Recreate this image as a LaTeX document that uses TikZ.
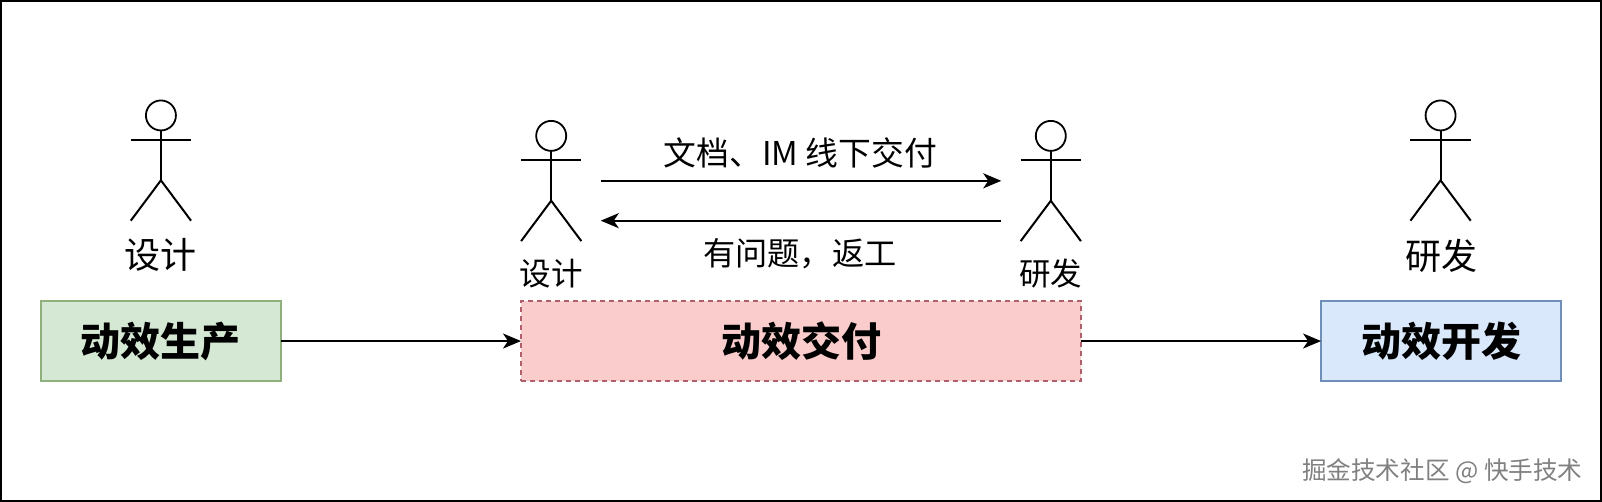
\documentclass[tikz,border=0pt]{standalone}
\usepackage{fontspec}
\setmainfont{Noto Sans CJK SC}
\usetikzlibrary{arrows.meta}
\definecolor{gfill}{HTML}{D5E8D4}\definecolor{gline}{HTML}{8FB07C}
\definecolor{rfill}{HTML}{FACCCC}\definecolor{rline}{HTML}{B0606A}
\definecolor{bfill}{HTML}{DAE8FC}\definecolor{bline}{HTML}{6F8FB8}
\tikzset{
  limb/.style={draw=black,line width=2pt},
  headc/.style={circle,draw=black,line width=1.8pt,minimum size=30pt,inner sep=0pt,outer sep=0pt},
  conn/.style={draw=black,line width=2pt,-{Stealth[length=18pt,width=15pt,inset=5pt]}},
  stage/.style={rectangle,line width=1.8pt,minimum height=80pt,inner sep=0pt,outer sep=0pt,font=\fontsize{40}{44}\selectfont\bfseries,text=black},
  biglabel/.style={inner sep=0pt,font=\fontsize{36}{40}\selectfont,text=black},
  midlabel/.style={inner sep=0pt,font=\fontsize{31.5}{34}\selectfont,text=black},
  msg/.style={inner sep=0pt,font=\fontsize{32.8}{36}\selectfont,text=black},
  msgb/.style={inner sep=0pt,font=\fontsize{32.2}{36}\selectfont,text=black},
  wm/.style={inner sep=0pt,font=\fontsize{24.6}{28}\selectfont,text=black!50}
}
\newcommand{\stagetext}[1]{\raisebox{-2.5pt}{#1}}
\newcommand{\stickman}[3]{% name, x, head centre y
  \node[headc] (#1head) at (#2,#3) {};
  \coordinate (#1larm) at (#2-29.5,#3+24);
  \coordinate (#1rarm) at (#2+29.5,#3+24);
  \coordinate (#1neck) at (#2,#3+24);
  \coordinate (#1hip) at (#2,#3+63.5);
  \coordinate (#1lfoot) at (#2-29.5,#3+103);
  \coordinate (#1rfoot) at (#2+29.5,#3+103);
  \draw[limb] (#1head.south) -- (#1hip);
  \draw[limb] (#1larm) -- (#1rarm);
  \draw[limb] (#1lfoot) -- (#1hip) -- (#1rfoot);
}
\begin{document}
\begin{tikzpicture}[x=1.0217pt,y=-1.0217pt]
\useasboundingbox (0,0) rectangle (1568,491.3);
\draw[black,line width=2.4pt] (1,1) rectangle (1567,490.3);
% actors
\stickman{aa}{157.5}{113}
\stickman{bb}{539.5}{133}
\stickman{cc}{1028.5}{133}
\stickman{dd}{1410}{113}
\node[biglabel] (aal) at (157.5,250) {设计};
\node[midlabel] (bbl) at (539.5,268) {设计};
\node[midlabel] (ccl) at (1028.5,268) {研发};
\node[biglabel] (ddl) at (1410.5,250) {研发};
% stages
\node[stage,fill=gfill,draw=gline,minimum width=240pt] (prod) at (157.5,333.8) {\stagetext{动效生产}};
\node[stage,fill=rfill,draw=rline,dashed,dash pattern=on 5pt off 4pt,minimum width=560pt] (deliv) at (784,333.8) {\stagetext{动效交付}};
\node[stage,fill=bfill,draw=bline,minimum width=240pt] (dev) at (1410.5,333.8) {\stagetext{动效开发}};
\draw[conn] (prod.east) -- (deliv.west);
\draw[conn] (deliv.east) -- (dev.west);
% messages
\coordinate (s1) at (588,177); \coordinate (e1) at (980,177);
\coordinate (s2) at (980,216); \coordinate (e2) at (588,216);
\draw[conn] (s1) -- (e1);
\draw[conn] (s2) -- (e2);
\node[msg] (m1) at (783.5,149.5) {文档、IM 线下交付};
\node[msgb] (m2) at (783,248) {有问题，返工};
\node[wm,anchor=east] (wmk) at (1549,461) {掘金技术社区 @ 快手技术};
\end{tikzpicture}
\end{document}
